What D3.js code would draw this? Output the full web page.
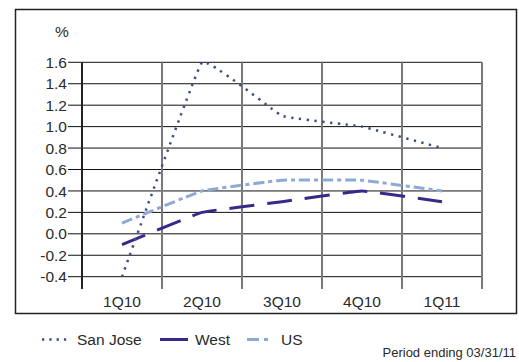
<!DOCTYPE html>
<html>
<head>
<meta charset="utf-8">
<script src="https://cdn.jsdelivr.net/npm/d3@7"></script>
<style>
  html, body { margin: 0; padding: 0; background: #fff; }
  svg { display: block; font-family: "Liberation Sans", Arial, Helvetica, sans-serif; }
</style>
</head>
<body>
<svg id="chart" width="519" height="362"></svg>
<script>
// Quarterly change, %
const quarters = ["1Q10", "2Q10", "3Q10", "4Q10", "1Q11"];
const sanJose = [-0.4, 1.6, 1.1, 1.0, 0.8];
const west = [-0.1, 0.2, 0.3, 0.4, 0.3];
const us = [0.1, 0.4, 0.5, 0.5, 0.4];
const yTicks = [-0.4, -0.2, 0.0, 0.2, 0.4, 0.6, 0.8, 1.0, 1.2, 1.4, 1.6];
const seriesNames = ["San Jose", "West", "US"];

const svg = d3.select("#chart");

// outer frame
svg.append("rect")
  .attr("x", 15.5).attr("y", 9.5)
  .attr("width", 501).attr("height", 304)
  .attr("fill", "none").attr("stroke", "#222").attr("stroke-width", 1.5);

const plotLeft = 82, plotRight = 482, plotTop = 62.3, plotBottom = 276.7, gridBottom = 289;

const x = d3.scaleBand().domain(quarters).range([plotLeft, plotRight]);
const y = d3.scaleLinear().domain([-0.4, 1.6]).range([plotBottom, plotTop]);

// horizontal gridlines with left ticks
svg.append("g").selectAll("line").data(yTicks).join("line")
  .attr("x1", 68).attr("x2", plotRight)
  .attr("y1", d => y(d)).attr("y2", d => y(d))
  .attr("stroke", "#111").attr("stroke-width", 1);

// vertical category separators
const seps = quarters.map(q => x(q)).concat([plotRight]);
svg.append("g").selectAll("line").data(seps).join("line")
  .attr("x1", d => d).attr("x2", d => d)
  .attr("y1", plotTop).attr("y2", gridBottom)
  .attr("stroke", (d, i) => i === 0 ? "#222" : "#7a7a7a")
  .attr("stroke-width", 2);

// y tick labels
svg.append("g").selectAll("text").data(yTicks).join("text")
  .attr("x", 67).attr("y", d => y(d))
  .attr("dy", "0.36em")
  .attr("text-anchor", "end")
  .attr("font-size", 15.5).attr("fill", "#2a2a2a")
  .text(d => d3.format(".1f")(d).replace("−", "-"));

svg.append("text")
  .attr("x", 62).attr("y", 37)
  .attr("text-anchor", "middle")
  .attr("font-size", 15.5).attr("fill", "#2a2a2a")
  .text("%");

// category labels
svg.append("g").selectAll("text").data(quarters).join("text")
  .attr("x", d => x(d) + x.bandwidth() / 2).attr("y", 306.5)
  .attr("text-anchor", "middle")
  .attr("font-size", 15.5).attr("fill", "#2a2a2a")
  .text(d => d);

const styles = {
  "San Jose": { color: "#3b4c80", width: 2.5, dash: "2.3,5.5", values: sanJose },
  "West": { color: "#38288a", width: 3, dash: "25,13", values: west },
  "US": { color: "#8eaad4", width: 3, dash: "11,4,4,4", values: us }
};

const line = d3.line()
  .x((d, i) => x(quarters[i]) + x.bandwidth() / 2)
  .y(d => y(d))
  .curve(d3.curveCardinal.tension(0.8));

// draw back-to-front: US, West, San Jose
["US", "West", "San Jose"].forEach(name => {
  const s = styles[name];
  svg.append("path")
    .attr("d", line(s.values))
    .attr("fill", "none")
    .attr("stroke", s.color)
    .attr("stroke-width", s.width)
    .attr("stroke-dasharray", s.dash);
});

// legend
const legendItems = [
  { name: "San Jose", x1: 42, x2: 71, tx: 77, dash: "2.3,5" },
  { name: "West", x1: 160, x2: 188, tx: 195, dash: null },
  { name: "US", x1: 247, x2: 272, tx: 281, dash: "12,5,4,20" }
];
const lg = svg.append("g");
legendItems.forEach(it => {
  const s = styles[it.name];
  lg.append("line")
    .attr("x1", it.x1).attr("x2", it.x2)
    .attr("y1", 339.5).attr("y2", 339.5)
    .attr("stroke", s.color).attr("stroke-width", s.width)
    .attr("stroke-dasharray", it.dash);
  lg.append("text")
    .attr("x", it.tx).attr("y", 345)
    .attr("font-size", 15.5).attr("fill", "#2a2a2a")
    .text(it.name);
});

svg.append("text")
  .attr("x", 516).attr("y", 356.5)
  .attr("text-anchor", "end")
  .attr("font-size", 13).attr("fill", "#2a2a2a")
  .text("Period ending 03/31/11");
</script>
</body>
</html>
